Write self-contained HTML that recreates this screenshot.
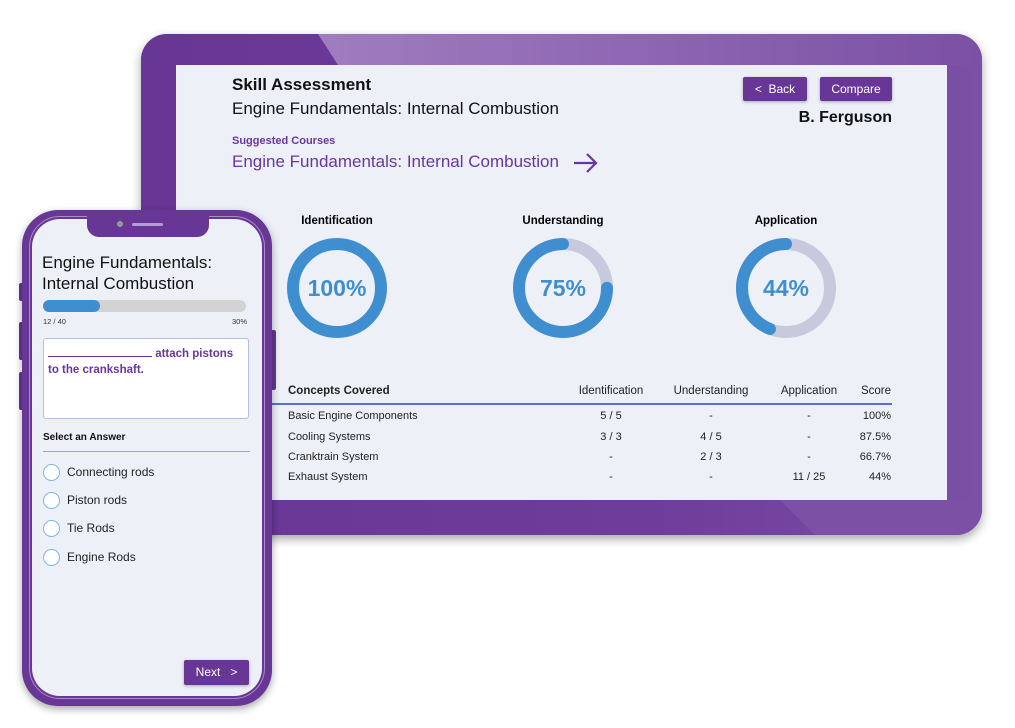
<!DOCTYPE html>
<html><head><meta charset="utf-8"><style>
body{margin:0;width:1015px;height:728px;background:#fff;position:relative;overflow:hidden;font-family:"Liberation Sans",sans-serif;}
.a{position:absolute;white-space:nowrap}
.tab{position:absolute;left:141px;top:34px;width:841px;height:501px;border-radius:26px;background:#683694;box-shadow:0 4px 10px rgba(0,0,0,.35);overflow:hidden}
.scr{position:absolute;left:176px;top:65px;width:771px;height:435px;background:#edf0f7}
.btn{position:absolute;background:#683694;color:#fff;font-size:12px;text-align:center;border-radius:2px;box-shadow:0 1px 3px rgba(0,0,0,.3)}
.th{font-size:11.5px;color:#222}
.td{font-size:11px;color:#222}
</style></head><body>
<div class="tab">
 <div style="position:absolute;left:0;top:0;width:100%;height:100%;background:linear-gradient(90deg,#683694 0%,#6e3c9a 60%,#7b50a5 100%)"></div>
 <div style="position:absolute;left:0;top:0;width:100%;height:31px;background:linear-gradient(90deg,#a98ac5 0%,#9068b4 55%,#7b50a5 100%);clip-path:polygon(177px 0,100% 0,100% 100%,197px 100%)"></div>
 <div style="position:absolute;left:0;top:0;width:100%;height:100%;background:#7b50a5;clip-path:polygon(639px 466px,841px 466px,841px 501px,674px 501px)"></div>
</div>
<div class="scr"></div>
<div class="a" style="left:232px;top:75px;font-size:17px;font-weight:bold;color:#111">Skill Assessment</div>
<div class="a" style="left:232px;top:99px;font-size:17px;color:#111">Engine Fundamentals: Internal Combustion</div>
<div class="a" style="left:232px;top:135px;font-size:11px;font-weight:bold;color:#6a35a0">Suggested Courses</div>
<div class="a" style="left:232px;top:152px;font-size:17px;color:#6a35a0">Engine Fundamentals: Internal Combustion</div>
<svg class="a" style="left:572px;top:152px" width="28" height="22"><path d="M2 11H24M15 2L24 11L15 20" stroke="#6a35a0" stroke-width="2.2" fill="none"/></svg>
<div class="btn" style="left:743px;top:77px;width:64px;height:24px;line-height:24px">&lt;&nbsp;&nbsp;Back</div>
<div class="btn" style="left:820px;top:77px;width:72px;height:24px;line-height:24px">Compare</div>
<div class="a" style="right:123px;top:109px;font-size:16px;font-weight:bold;color:#111">B. Ferguson</div>

<div class="a" style="left:287px;width:100px;text-align:center;top:215px;font-size:11.5px;font-weight:bold">Identification</div>
<div class="a" style="left:513px;width:100px;text-align:center;top:215px;font-size:11.5px;font-weight:bold">Understanding</div>
<div class="a" style="left:736px;width:100px;text-align:center;top:215px;font-size:11.5px;font-weight:bold">Application</div>
<svg class="a" style="left:0;top:0" width="1015" height="400">
 <g fill="none" stroke-width="12">
  <circle cx="337" cy="288" r="44" stroke="#3f8fd0"/>
  <circle cx="563" cy="288" r="44" stroke="#c6cadc"/>
  <circle cx="563" cy="288" r="44" stroke="#3f8fd0" stroke-linecap="round" stroke-dasharray="207.3 300" transform="rotate(-90 563 288) scale(1 -1) translate(0 -576)"/>
  <circle cx="786" cy="288" r="44" stroke="#c6cadc"/>
  <circle cx="786" cy="288" r="44" stroke="#3f8fd0" stroke-linecap="round" stroke-dasharray="121.6 300" transform="translate(1572 0) scale(-1 1) rotate(-90 786 288)"/>
 </g>
 <g font-family="Liberation Sans" font-weight="bold" font-size="23" fill="#3f8fd0" text-anchor="middle">
  <text x="337" y="296">100%</text><text x="563" y="296">75%</text><text x="786" y="296">44%</text>
 </g>
</svg>

<div class="a th" style="left:288px;top:385px;font-weight:bold">Concepts Covered</div>
<div class="a th" style="left:561px;width:100px;text-align:center;top:385px">Identification</div>
<div class="a th" style="left:661px;width:100px;text-align:center;top:385px">Understanding</div>
<div class="a th" style="left:759px;width:100px;text-align:center;top:385px">Application</div>
<div class="a th" style="right:124px;top:385px">Score</div>
<div class="a" style="left:272px;top:403px;width:620px;height:1.5px;background:#5a6fc8"></div>
<div class="a td" style="left:288px;top:410px">Basic Engine Components</div>
<div class="a td" style="left:288px;top:431px">Cooling Systems</div>
<div class="a td" style="left:288px;top:451px">Cranktrain System</div>
<div class="a td" style="left:288px;top:471px">Exhaust System</div>
<div class="a td" style="left:561px;width:100px;text-align:center;top:410px">5 / 5</div>
<div class="a td" style="left:561px;width:100px;text-align:center;top:431px">3 / 3</div>
<div class="a td" style="left:561px;width:100px;text-align:center;top:451px">-</div>
<div class="a td" style="left:561px;width:100px;text-align:center;top:471px">-</div>
<div class="a td" style="left:661px;width:100px;text-align:center;top:410px">-</div>
<div class="a td" style="left:661px;width:100px;text-align:center;top:431px">4 / 5</div>
<div class="a td" style="left:661px;width:100px;text-align:center;top:451px">2 / 3</div>
<div class="a td" style="left:661px;width:100px;text-align:center;top:471px">-</div>
<div class="a td" style="left:759px;width:100px;text-align:center;top:410px">-</div>
<div class="a td" style="left:759px;width:100px;text-align:center;top:431px">-</div>
<div class="a td" style="left:759px;width:100px;text-align:center;top:451px">-</div>
<div class="a td" style="left:759px;width:100px;text-align:center;top:471px">11 / 25</div>
<div class="a td" style="right:124px;top:410px">100%</div>
<div class="a td" style="right:124px;top:431px">87.5%</div>
<div class="a td" style="right:124px;top:451px">66.7%</div>
<div class="a td" style="right:124px;top:471px">44%</div>

<!-- phone -->
<div class="a" style="left:19px;top:283px;width:5px;height:18px;background:#683694;border-radius:2px"></div>
<div class="a" style="left:19px;top:322px;width:5px;height:38px;background:#683694;border-radius:2px"></div>
<div class="a" style="left:19px;top:372px;width:5px;height:38px;background:#683694;border-radius:2px"></div>
<div class="a" style="left:271px;top:330px;width:5px;height:60px;background:#683694;border-radius:2px"></div>
<div class="a" style="left:22px;top:210px;width:250px;height:496px;border-radius:36px;background:#683694;box-shadow:0 3px 8px rgba(0,0,0,.35)"></div>
<div class="a" style="left:29px;top:216px;width:236px;height:483px;border-radius:31px;border:1px solid #a98bc9;box-sizing:border-box"></div>
<div class="a" style="left:32px;top:219px;width:230px;height:477px;border-radius:28px;background:#edf0f7"></div>
<div class="a" style="left:87px;top:210px;width:122px;height:27px;border-radius:0 0 12px 12px;background:#683694"></div>
<div class="a" style="left:117px;top:221px;width:6px;height:6px;border-radius:50%;background:#999"></div>
<div class="a" style="left:132px;top:223px;width:31px;height:3px;border-radius:2px;background:#b79bd6"></div>
<div class="a" style="left:42px;top:252px;font-size:17px;color:#111;line-height:21px">Engine Fundamentals:<br>Internal Combustion</div>
<div class="a" style="left:43px;top:300px;width:203px;height:12px;border-radius:6px;background:#d3d3d3"></div>
<div class="a" style="left:43px;top:300px;width:57px;height:12px;border-radius:6px;background:#3f8fd0"></div>
<div class="a" style="left:43px;top:317px;font-size:7.5px;color:#333">12 / 40</div>
<div class="a" style="right:768px;top:317px;font-size:7.5px;color:#333">30%</div>
<div class="a" style="left:43px;top:338px;width:206px;height:81px;background:#fff;border:1px solid #b7bde0;border-radius:3px;box-sizing:border-box"></div>
<div class="a" style="left:48px;top:344px;font-size:11.5px;font-weight:bold;color:#6a35a0;line-height:16px"><span style="display:inline-block;width:104px;border-bottom:1px solid #6a35a0;height:12px;vertical-align:baseline"></span> attach pistons<br>to the crankshaft.</div>
<div class="a" style="left:43px;top:432px;font-size:10px;font-weight:bold;color:#111">Select an Answer</div>
<div class="a" style="left:43px;top:451px;width:207px;height:1px;background:#9aa6d6"></div>
<div class="a" style="left:43px;top:464px;width:15px;height:15px;border-radius:50%;border:1px solid #7fb6e6;background:#fff"></div>
<div class="a" style="left:43px;top:492px;width:15px;height:15px;border-radius:50%;border:1px solid #7fb6e6;background:#fff"></div>
<div class="a" style="left:43px;top:520px;width:15px;height:15px;border-radius:50%;border:1px solid #7fb6e6;background:#fff"></div>
<div class="a" style="left:43px;top:549px;width:15px;height:15px;border-radius:50%;border:1px solid #7fb6e6;background:#fff"></div>
<div class="a" style="left:67px;top:465px;font-size:12px;color:#222">Connecting rods</div>
<div class="a" style="left:67px;top:493px;font-size:12px;color:#222">Piston rods</div>
<div class="a" style="left:67px;top:521px;font-size:12px;color:#222">Tie Rods</div>
<div class="a" style="left:67px;top:550px;font-size:12px;color:#222">Engine Rods</div>
<div class="btn" style="left:184px;top:660px;width:65px;height:25px;line-height:25px">Next&nbsp;&nbsp;&nbsp;&gt;</div>
</body></html>
